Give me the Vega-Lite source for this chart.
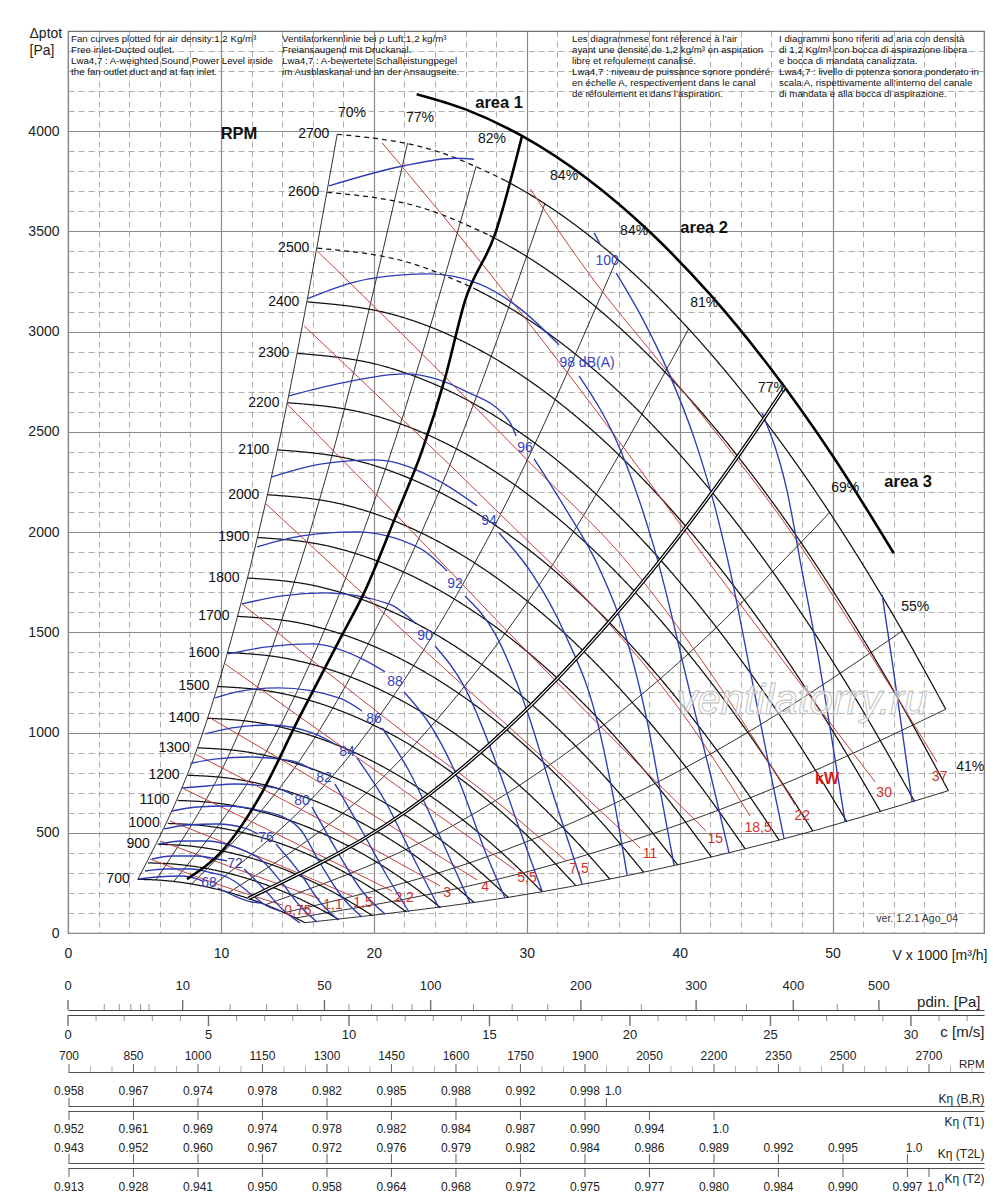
{
"$schema":"https://vega.github.io/schema/vega-lite/v6.json",
"background":"white",
"padding":{"left":27,"top":25,"right":5,"bottom":5},
"bounds":"flush",
"spacing":5,
"config":{"view":{"stroke":null},"font":"Liberation Sans","text":{"font":"Liberation Sans"},"axis":{"labelFont":"Liberation Sans","titleFont":"Liberation Sans"}},
"datasets":{
"fan":[
{"id":"700","d":"s","V":4.56,"P":267.8},{"id":"700","d":"s","V":6.29,"P":261.9},{"id":"700","d":"s","V":8.05,"P":244.9},{"id":"700","d":"s","V":9.81,"P":217.0},{"id":"700","d":"s","V":11.57,"P":178.0},{"id":"700","d":"s","V":13.34,"P":128.0},{"id":"700","d":"s","V":14.47,"P":90.0},{"id":"700","d":"s","V":15.50,"P":51.5},
{"id":"800","d":"s","V":5.22,"P":349.8},{"id":"800","d":"s","V":7.19,"P":342.1},{"id":"800","d":"s","V":9.20,"P":319.9},{"id":"800","d":"s","V":11.21,"P":283.4},{"id":"800","d":"s","V":13.23,"P":232.5},{"id":"800","d":"s","V":15.24,"P":167.1},{"id":"800","d":"s","V":16.53,"P":117.6},{"id":"800","d":"s","V":17.71,"P":67.2},
{"id":"900","d":"s","V":5.87,"P":442.8},{"id":"900","d":"s","V":8.09,"P":433.0},{"id":"900","d":"s","V":10.35,"P":404.9},{"id":"900","d":"s","V":12.62,"P":358.7},{"id":"900","d":"s","V":14.88,"P":294.2},{"id":"900","d":"s","V":17.15,"P":211.6},{"id":"900","d":"s","V":18.60,"P":148.8},{"id":"900","d":"s","V":19.93,"P":85.1},
{"id":"1000","d":"s","V":6.52,"P":546.6},{"id":"1000","d":"s","V":8.99,"P":534.5},{"id":"1000","d":"s","V":11.50,"P":499.8},{"id":"1000","d":"s","V":14.02,"P":442.8},{"id":"1000","d":"s","V":16.53,"P":363.2},{"id":"1000","d":"s","V":19.05,"P":261.2},{"id":"1000","d":"s","V":20.67,"P":183.7},{"id":"1000","d":"s","V":22.14,"P":105.0},
{"id":"1100","d":"s","V":7.17,"P":661.4},{"id":"1100","d":"s","V":9.89,"P":646.7},{"id":"1100","d":"s","V":12.65,"P":604.9},{"id":"1100","d":"s","V":15.42,"P":535.8},{"id":"1100","d":"s","V":18.19,"P":439.5},{"id":"1100","d":"s","V":20.96,"P":316.0},{"id":"1100","d":"s","V":22.74,"P":222.3},{"id":"1100","d":"s","V":24.36,"P":127.1},
{"id":"1200","d":"s","V":7.82,"P":787.1},{"id":"1200","d":"s","V":10.78,"P":769.7},{"id":"1200","d":"s","V":13.80,"P":719.8},{"id":"1200","d":"s","V":16.82,"P":637.6},{"id":"1200","d":"s","V":19.84,"P":523.0},{"id":"1200","d":"s","V":22.86,"P":376.1},{"id":"1200","d":"s","V":24.80,"P":264.5},{"id":"1200","d":"s","V":26.57,"P":151.2},
{"id":"1300","d":"s","V":8.48,"P":923.8},{"id":"1300","d":"s","V":11.68,"P":903.3},{"id":"1300","d":"s","V":14.95,"P":844.8},{"id":"1300","d":"s","V":18.22,"P":748.3},{"id":"1300","d":"s","V":21.50,"P":613.8},{"id":"1300","d":"s","V":24.77,"P":441.4},{"id":"1300","d":"s","V":26.87,"P":310.5},{"id":"1300","d":"s","V":28.79,"P":177.5},
{"id":"1400","d":"s","V":9.13,"P":1071.4},{"id":"1400","d":"s","V":12.58,"P":1047.6},{"id":"1400","d":"s","V":16.10,"P":979.8},{"id":"1400","d":"s","V":19.63,"P":867.9},{"id":"1400","d":"s","V":23.15,"P":711.9},{"id":"1400","d":"s","V":26.67,"P":511.9},{"id":"1400","d":"s","V":28.94,"P":360.1},{"id":"1400","d":"s","V":31.00,"P":205.9},
{"id":"1500","d":"s","V":9.78,"P":1229.9},{"id":"1500","d":"s","V":13.48,"P":1202.6},{"id":"1500","d":"s","V":17.25,"P":1124.7},{"id":"1500","d":"s","V":21.03,"P":996.3},{"id":"1500","d":"s","V":24.80,"P":817.2},{"id":"1500","d":"s","V":28.58,"P":587.6},{"id":"1500","d":"s","V":31.00,"P":413.3},{"id":"1500","d":"s","V":33.21,"P":236.3},
{"id":"1600","d":"s","V":10.43,"P":1399.3},{"id":"1600","d":"s","V":14.38,"P":1368.3},{"id":"1600","d":"s","V":18.40,"P":1279.7},{"id":"1600","d":"s","V":22.43,"P":1133.5},{"id":"1600","d":"s","V":26.46,"P":929.8},{"id":"1600","d":"s","V":30.48,"P":668.6},{"id":"1600","d":"s","V":33.07,"P":470.3},{"id":"1600","d":"s","V":35.43,"P":268.9},
{"id":"1700","d":"s","V":11.08,"P":1579.7},{"id":"1700","d":"s","V":15.28,"P":1544.7},{"id":"1700","d":"s","V":19.55,"P":1444.6},{"id":"1700","d":"s","V":23.83,"P":1279.6},{"id":"1700","d":"s","V":28.11,"P":1049.7},{"id":"1700","d":"s","V":32.39,"P":754.8},{"id":"1700","d":"s","V":35.14,"P":530.9},{"id":"1700","d":"s","V":37.64,"P":303.5},
{"id":"1800","d":"s","V":11.74,"P":1771.0},{"id":"1800","d":"s","V":16.18,"P":1731.7},{"id":"1800","d":"s","V":20.70,"P":1619.6},{"id":"1800","d":"s","V":25.23,"P":1434.6},{"id":"1800","d":"s","V":29.76,"P":1176.8},{"id":"1800","d":"s","V":34.29,"P":846.2},{"id":"1800","d":"s","V":37.20,"P":595.2},{"id":"1800","d":"s","V":39.86,"P":340.3},
{"id":"1900","d":"s","V":12.39,"P":1973.3},{"id":"1900","d":"s","V":17.07,"P":1929.5},{"id":"1900","d":"s","V":21.85,"P":1804.6},{"id":"1900","d":"s","V":26.64,"P":1598.4},{"id":"1900","d":"s","V":31.42,"P":1311.2},{"id":"1900","d":"s","V":36.20,"P":942.8},{"id":"1900","d":"s","V":39.27,"P":663.2},{"id":"1900","d":"s","V":42.07,"P":379.2},
{"id":"2000","d":"s","V":13.04,"P":2186.5},{"id":"2000","d":"s","V":17.97,"P":2138.0},{"id":"2000","d":"s","V":23.01,"P":1999.5},{"id":"2000","d":"s","V":28.04,"P":1771.1},{"id":"2000","d":"s","V":33.07,"P":1452.9},{"id":"2000","d":"s","V":38.10,"P":1044.7},{"id":"2000","d":"s","V":41.34,"P":734.8},{"id":"2000","d":"s","V":44.28,"P":420.1},
{"id":"2100","d":"s","V":13.69,"P":2410.5},{"id":"2100","d":"s","V":18.87,"P":2357.1},{"id":"2100","d":"s","V":24.16,"P":2204.4},{"id":"2100","d":"s","V":29.44,"P":1952.6},{"id":"2100","d":"s","V":34.72,"P":1601.8},{"id":"2100","d":"s","V":40.01,"P":1151.7},{"id":"2100","d":"s","V":43.40,"P":810.1},{"id":"2100","d":"s","V":46.50,"P":463.2},
{"id":"2200","d":"s","V":14.35,"P":2645.6},{"id":"2200","d":"s","V":19.77,"P":2586.9},{"id":"2200","d":"s","V":25.31,"P":2419.4},{"id":"2200","d":"s","V":30.84,"P":2143.1},{"id":"2200","d":"s","V":36.38,"P":1757.9},{"id":"2200","d":"s","V":41.91,"P":1264.0},{"id":"2200","d":"s","V":45.47,"P":889.1},{"id":"2200","d":"s","V":48.71,"P":508.4},
{"id":"2300","d":"s","V":15.00,"P":2891.6},{"id":"2300","d":"s","V":20.67,"P":2827.4},{"id":"2300","d":"s","V":26.46,"P":2644.3},{"id":"2300","d":"s","V":32.24,"P":2342.3},{"id":"2300","d":"s","V":38.03,"P":1921.4},{"id":"2300","d":"s","V":43.82,"P":1381.6},{"id":"2300","d":"s","V":47.54,"P":971.8},{"id":"2300","d":"s","V":50.93,"P":555.6},
{"id":"2400","d":"s","V":15.65,"P":3148.5},{"id":"2400","d":"s","V":21.57,"P":3078.7},{"id":"2400","d":"s","V":27.61,"P":2879.3},{"id":"2400","d":"s","V":33.64,"P":2550.4},{"id":"2400","d":"s","V":39.68,"P":2092.1},{"id":"2400","d":"s","V":45.72,"P":1504.3},{"id":"2400","d":"s","V":49.60,"P":1058.1},{"id":"2400","d":"s","V":53.14,"P":605.0},
{"id":"2500d","d":"d","V":16.30,"P":3416.3},{"id":"2500d","d":"d","V":22.47,"P":3340.6},{"id":"2500d","d":"d","V":26.51,"P":3217.6},
{"id":"2500","d":"s","V":26.51,"P":3217.6},{"id":"2500","d":"s","V":28.76,"P":3124.2},{"id":"2500","d":"s","V":35.05,"P":2767.4},{"id":"2500","d":"s","V":41.34,"P":2270.1},{"id":"2500","d":"s","V":47.63,"P":1632.3},{"id":"2500","d":"s","V":51.67,"P":1148.2},{"id":"2500","d":"s","V":55.36,"P":656.5},
{"id":"2600d","d":"d","V":16.95,"P":3695.1},{"id":"2600d","d":"d","V":23.36,"P":3613.2},{"id":"2600d","d":"d","V":27.57,"P":3480.2},
{"id":"2600","d":"s","V":27.57,"P":3480.2},{"id":"2600","d":"s","V":29.91,"P":3379.2},{"id":"2600","d":"s","V":36.45,"P":2993.2},{"id":"2600","d":"s","V":42.99,"P":2455.3},{"id":"2600","d":"s","V":49.53,"P":1765.5},{"id":"2600","d":"s","V":53.74,"P":1241.8},{"id":"2600","d":"s","V":57.57,"P":710.0},
{"id":"2700d","d":"d","V":17.61,"P":3984.8},{"id":"2700d","d":"d","V":24.26,"P":3896.4},{"id":"2700d","d":"d","V":28.63,"P":3753.0},
{"id":"2700","d":"s","V":28.63,"P":3753.0},{"id":"2700","d":"s","V":31.06,"P":3644.1},{"id":"2700","d":"s","V":37.85,"P":3227.8},{"id":"2700","d":"s","V":44.64,"P":2647.8},{"id":"2700","d":"s","V":51.44,"P":1903.9},{"id":"2700","d":"s","V":54.35,"P":1534.9},{"id":"2700","d":"s","V":57.40,"P":1116.0}
],
"ln":[
{"k":"e","id":"e70","V":4.564,"P":267.8},{"k":"e","id":"e70","V":9.07,"P":1057.6},{"k":"e","id":"e70","V":13.605,"P":2379.7},{"k":"e","id":"e70","V":17.605,"P":3984.8},
{"k":"e","id":"e77","V":5.757,"P":264.9},{"k":"e","id":"e77","V":11.44,"P":1045.9},{"k":"e","id":"e77","V":17.16,"P":2353.3},{"k":"e","id":"e77","V":22.206,"P":3940.6},
{"k":"e","id":"e82","V":6.92,"P":257.1},{"k":"e","id":"e82","V":13.75,"P":1015.3},{"k":"e","id":"e82","V":20.625,"P":2284.3},{"k":"e","id":"e82","V":26.69,"P":3825.1},
{"k":"e","id":"e84a","V":8.085,"P":244.5},{"k":"e","id":"e84a","V":16.065,"P":965.6},{"k":"e","id":"e84a","V":24.10,"P":2172.5},{"k":"e","id":"e84a","V":31.18,"P":3637.9},
{"k":"e","id":"e84b","V":9.307,"P":226.1},{"k":"e","id":"e84b","V":18.495,"P":892.9},{"k":"e","id":"e84b","V":27.74,"P":2009.0},{"k":"e","id":"e84b","V":35.90,"P":3364.1},
{"k":"e","id":"e81","V":10.523,"P":202.6},{"k":"e","id":"e81","V":20.91,"P":800.0},{"k":"e","id":"e81","V":31.365,"P":1799.9},{"k":"e","id":"e81","V":40.587,"P":3013.9},
{"k":"e","id":"e69","V":12.913,"P":141.0},{"k":"e","id":"e69","V":25.66,"P":556.7},{"k":"e","id":"e69","V":38.49,"P":1252.5},{"k":"e","id":"e69","V":49.807,"P":2097.3},
{"k":"e","id":"e55","V":14.146,"P":101.3},{"k":"e","id":"e55","V":28.11,"P":399.9},{"k":"e","id":"e55","V":42.165,"P":899.7},{"k":"e","id":"e55","V":54.563,"P":1506.6},
{"k":"e","id":"e41","V":14.881,"P":75.0},{"k":"e","id":"e41","V":29.57,"P":296.3},{"k":"e","id":"e41","V":44.355,"P":666.6},{"k":"e","id":"e41","V":57.397,"P":1116.2},
{"k":"e","id":"ebot","V":15.5,"P":51.5},{"k":"e","id":"ebot","V":30.8,"P":203.2},{"k":"e","id":"ebot","V":46.2,"P":457.3},{"k":"e","id":"ebot","V":57.57,"P":710.0},
{"k":"t","id":"tA","V":22.8,"P":4185.0},{"k":"t","id":"tA","V":26,"P":4109.1},{"k":"t","id":"tA","V":29.69,"P":3976.4},{"k":"t","id":"tA","V":34,"P":3760.3},{"k":"t","id":"tA","V":38,"P":3500.7},{"k":"t","id":"tA","V":42,"P":3184.3},{"k":"t","id":"tA","V":46,"P":2811.1},{"k":"t","id":"tA","V":50,"P":2381.1},{"k":"t","id":"tA","V":54,"P":1894.3},
{"k":"t","id":"t1","V":7.78,"P":269},{"k":"t","id":"t1","V":10.07,"P":409},{"k":"t","id":"t1","V":12.49,"P":674},{"k":"t","id":"t1","V":15.11,"P":1073},{"k":"t","id":"t1","V":17.72,"P":1457},{"k":"t","id":"t1","V":19.42,"P":1707},{"k":"t","id":"t1","V":21.39,"P":2071},{"k":"t","id":"t1","V":23.15,"P":2405},{"k":"t","id":"t1","V":24.66,"P":2769},{"k":"t","id":"t1","V":25.96,"P":3154},{"k":"t","id":"t1","V":27.93,"P":3488},{"k":"t","id":"t1","V":29.69,"P":3976},
{"k":"d","id":"t77","V":11.793,"P":172.4},{"k":"d","id":"t77","V":23.435,"P":680.6},{"k":"d","id":"t77","V":35.15,"P":1531.4},{"k":"d","id":"t77","V":45.49,"P":2564.3},{"k":"d","id":"t77","V":46.87,"P":2722.4},
{"k":"r","id":"r075","V":5.36,"P":369.3},{"k":"r","id":"r075","V":9.74,"P":244.5},{"k":"r","id":"r075","V":14.0,"P":139.7},
{"k":"r","id":"r11","V":6.02,"P":459.1},{"k":"r","id":"r11","V":11.38,"P":309.4},{"k":"r","id":"r11","V":16.48,"P":169.7},
{"k":"r","id":"r15","V":6.67,"P":558.9},{"k":"r","id":"r15","V":12.69,"P":374.3},{"k":"r","id":"r15","V":18.57,"P":184.6},
{"k":"r","id":"r22","V":7.59,"P":718.6},{"k":"r","id":"r22","V":14.32,"P":469.1},{"k":"r","id":"r22","V":21.19,"P":209.6},
{"k":"r","id":"r3","V":8.31,"P":893.2},{"k":"r","id":"r3","V":16.29,"P":573.9},{"k":"r","id":"r3","V":24.33,"P":234.5},
{"k":"r","id":"r4","V":9.29,"P":1072.9},{"k":"r","id":"r4","V":17.92,"P":683.6},{"k":"r","id":"r4","V":26.75,"P":264.5},
{"k":"r","id":"r55","V":10.27,"P":1342.3},{"k":"r","id":"r55","V":19.88,"P":823.4},{"k":"r","id":"r55","V":29.24,"P":314.4},
{"k":"r","id":"r75","V":11.38,"P":1641.7},{"k":"r","id":"r75","V":21.84,"P":1008.0},{"k":"r","id":"r75","V":28.38,"P":633.7},{"k":"r","id":"r75","V":32.57,"P":359.3},
{"k":"r","id":"r110","V":12.88,"P":2145.7},{"k":"r","id":"r110","V":23.35,"P":1407.2},{"k":"r","id":"r110","V":32.50,"P":773.5},{"k":"r","id":"r110","V":37.41,"P":424.2},
{"k":"r","id":"r150","V":14.32,"P":2639.7},{"k":"r","id":"r150","V":21.84,"P":2055.9},{"k":"r","id":"r150","V":28.58,"P":1517.0},{"k":"r","id":"r150","V":36.89,"P":873.3},{"k":"r","id":"r150","V":41.73,"P":509.0},
{"k":"r","id":"r185","V":15.44,"P":3028.9},{"k":"r","id":"r185","V":21.84,"P":2564.9},{"k":"r","id":"r185","V":28.38,"P":2080.8},{"k":"r","id":"r185","V":34.92,"P":1581.8},{"k":"r","id":"r185","V":40.16,"P":1097.8},{"k":"r","id":"r185","V":44.60,"P":583.8},
{"k":"r","id":"r220","V":16.29,"P":3403.2},{"k":"r","id":"r220","V":23.81,"P":2839.3},{"k":"r","id":"r220","V":29.89,"P":2370.3},{"k":"r","id":"r220","V":36.89,"P":1821.4},{"k":"r","id":"r220","V":41.47,"P":1357.3},{"k":"r","id":"r220","V":47.55,"P":638.7},
{"k":"r","id":"r300","V":20.54,"P":3942.1},{"k":"r","id":"r300","V":27.08,"P":3338.3},{"k":"r","id":"r300","V":32.31,"P":2829.3},{"k":"r","id":"r300","V":42.32,"P":1806.4},{"k":"r","id":"r300","V":52.78,"P":753.5},
{"k":"r","id":"r370","V":30.22,"P":3712.6},{"k":"r","id":"r370","V":34.27,"P":3268.5},{"k":"r","id":"r370","V":39.31,"P":2789.4},{"k":"r","id":"r370","V":47.81,"P":1941.1},{"k":"r","id":"r370","V":51.08,"P":1556.9},{"k":"r","id":"r370","V":56.83,"P":853.3},
{"k":"b","id":"b100u","V":17.07,"P":3727.5},{"k":"b","id":"b100u","V":21.84,"P":3825.3},{"k":"b","id":"b100u","V":25.31,"P":3865.3},{"k":"b","id":"b100u","V":26.55,"P":3860.3},
{"k":"b","id":"b100p","V":34.40,"P":3493.0},{"k":"b","id":"b100p","V":34.79,"P":3438.1},
{"k":"b","id":"b100l","V":35.84,"P":3293.4},{"k":"b","id":"b100l","V":37.54,"P":3068.9},{"k":"b","id":"b100l","V":39.31,"P":2789.4},{"k":"b","id":"b100l","V":41.01,"P":2455.1},{"k":"b","id":"b100l","V":42.32,"P":2120.8},{"k":"b","id":"b100l","V":43.30,"P":1806.4},{"k":"b","id":"b100l","V":44.74,"P":1257.5},{"k":"b","id":"b100l","V":45.91,"P":808.4},{"k":"b","id":"b100l","V":46.83,"P":469.1},
{"k":"b","id":"b98u","V":15.63,"P":3163.7},{"k":"b","id":"b98u","V":19.69,"P":3263.5},{"k":"b","id":"b98u","V":23.61,"P":3288.4},{"k":"b","id":"b98u","V":26.88,"P":3238.5},{"k":"b","id":"b98u","V":29.50,"P":3118.8},{"k":"b","id":"b98u","V":32.11,"P":2934.1},
{"k":"b","id":"b98l","V":33.42,"P":2779.4},{"k":"b","id":"b98l","V":36.23,"P":2390.2},{"k":"b","id":"b98l","V":38.39,"P":1906.2},{"k":"b","id":"b98l","V":40.81,"P":1157.7},{"k":"b","id":"b98l","V":42.12,"P":758.5},{"k":"b","id":"b98l","V":43.23,"P":399.2},
{"k":"b","id":"b96u","V":14.45,"P":2679.6},{"k":"b","id":"b96u","V":17.92,"P":2744.5},{"k":"b","id":"b96u","V":22.04,"P":2789.4},{"k":"b","id":"b96u","V":25.96,"P":2704.6},{"k":"b","id":"b96u","V":28.84,"P":2554.9},{"k":"b","id":"b96u","V":29.30,"P":2480.0},
{"k":"b","id":"b96l","V":30.48,"P":2365.3},{"k":"b","id":"b96l","V":32.50,"P":2120.8},{"k":"b","id":"b96l","V":34.73,"P":1821.4},{"k":"b","id":"b96l","V":36.43,"P":1492.0},{"k":"b","id":"b96l","V":37.87,"P":1057.9},{"k":"b","id":"b96l","V":38.85,"P":658.7},{"k":"b","id":"b96l","V":39.63,"P":339.3},
{"k":"b","id":"b94u","V":13.34,"P":2275.4},{"k":"b","id":"b94u","V":16.61,"P":2340.3},{"k":"b","id":"b94u","V":20.08,"P":2360.3},{"k":"b","id":"b94u","V":24.26,"P":2255.5},{"k":"b","id":"b94u","V":26.75,"P":2130.7},
{"k":"b","id":"b94l","V":28.19,"P":1996.0},{"k":"b","id":"b94l","V":30.35,"P":1791.4},{"k":"b","id":"b94l","V":32.50,"P":1492.0},{"k":"b","id":"b94l","V":34.60,"P":1057.9},{"k":"b","id":"b94l","V":35.71,"P":658.7},{"k":"b","id":"b94l","V":36.56,"P":289.4},
{"k":"b","id":"b92u","V":12.36,"P":1926.1},{"k":"b","id":"b92u","V":15.30,"P":1981.0},{"k":"b","id":"b92u","V":18.77,"P":2001.0},{"k":"b","id":"b92u","V":22.96,"P":1921.2},{"k":"b","id":"b92u","V":24.79,"P":1806.4},
{"k":"b","id":"b92l","V":25.96,"P":1681.6},{"k":"b","id":"b92l","V":27.93,"P":1492.0},{"k":"b","id":"b92l","V":30.02,"P":1107.8},{"k":"b","id":"b92l","V":31.65,"P":708.6},{"k":"b","id":"b92l","V":33.62,"P":244.5},
{"k":"b","id":"b90u","V":11.38,"P":1641.7},{"k":"b","id":"b90u","V":14.00,"P":1681.6},{"k":"b","id":"b90u","V":16.81,"P":1696.6},{"k":"b","id":"b90u","V":20.99,"P":1641.7},{"k":"b","id":"b90u","V":22.69,"P":1546.9},
{"k":"b","id":"b90l","V":24.00,"P":1432.1},{"k":"b","id":"b90l","V":25.96,"P":1222.6},{"k":"b","id":"b90l","V":28.19,"P":808.4},{"k":"b","id":"b90l","V":29.50,"P":524.0},{"k":"b","id":"b90l","V":31.00,"P":209.6},
{"k":"b","id":"b88u","V":10.46,"P":1392.2},{"k":"b","id":"b88u","V":13.02,"P":1427.1},{"k":"b","id":"b88u","V":15.96,"P":1442.1},{"k":"b","id":"b88u","V":19.23,"P":1367.3},{"k":"b","id":"b88u","V":20.73,"P":1302.4},
{"k":"b","id":"b88l","V":21.98,"P":1202.6},{"k":"b","id":"b88l","V":23.81,"P":1023.0},{"k":"b","id":"b88l","V":25.57,"P":758.5},{"k":"b","id":"b88l","V":27.27,"P":409.2},{"k":"b","id":"b88l","V":28.58,"P":174.7},
{"k":"b","id":"b86u","V":9.61,"P":1172.7},{"k":"b","id":"b86u","V":11.38,"P":1207.6},{"k":"b","id":"b86u","V":13.80,"P":1222.6},{"k":"b","id":"b86u","V":17.72,"P":1172.7},{"k":"b","id":"b86u","V":19.23,"P":1107.8},
{"k":"b","id":"b86l","V":20.54,"P":1023.0},{"k":"b","id":"b86l","V":22.30,"P":808.4},{"k":"b","id":"b86l","V":24.46,"P":459.1},{"k":"b","id":"b86l","V":26.29,"P":149.7},
{"k":"b","id":"b84u","V":8.96,"P":993.0},{"k":"b","id":"b84u","V":10.73,"P":1023.0},{"k":"b","id":"b84u","V":13.15,"P":1037.9},{"k":"b","id":"b84u","V":16.15,"P":993.0},{"k":"b","id":"b84u","V":17.53,"P":938.1},
{"k":"b","id":"b84l","V":18.90,"P":873.3},{"k":"b","id":"b84l","V":20.73,"P":658.7},{"k":"b","id":"b84l","V":22.69,"P":359.3},{"k":"b","id":"b84l","V":24.26,"P":124.8},
{"k":"b","id":"b82u","V":8.11,"P":848.3},{"k":"b","id":"b82u","V":9.74,"P":868.3},{"k":"b","id":"b82u","V":11.84,"P":878.2},{"k":"b","id":"b82u","V":14.65,"P":858.3},{"k":"b","id":"b82u","V":16.02,"P":813.4},
{"k":"b","id":"b82l","V":17.46,"P":743.5},{"k":"b","id":"b82l","V":19.23,"P":509.0},{"k":"b","id":"b82l","V":20.86,"P":284.4},{"k":"b","id":"b82l","V":22.30,"P":104.8},
{"k":"b","id":"b80u","V":7.46,"P":723.6},{"k":"b","id":"b80u","V":9.09,"P":733.5},{"k":"b","id":"b80u","V":10.92,"P":743.5},{"k":"b","id":"b80u","V":13.54,"P":723.6},{"k":"b","id":"b80u","V":14.72,"P":688.6},
{"k":"b","id":"b80l","V":15.96,"P":628.7},{"k":"b","id":"b80l","V":17.59,"P":409.2},{"k":"b","id":"b80l","V":19.23,"P":209.6},{"k":"b","id":"b80l","V":20.73,"P":94.8},
{"k":"b","id":"b78","V":6.80,"P":608.8},{"k":"b","id":"b78","V":8.44,"P":628.7},{"k":"b","id":"b78","V":10.40,"P":633.7},{"k":"b","id":"b78","V":12.69,"P":608.8},{"k":"b","id":"b78","V":14.32,"P":568.9},{"k":"b","id":"b78","V":15.17,"P":519.0},{"k":"b","id":"b78","V":16.48,"P":349.3},{"k":"b","id":"b78","V":17.92,"P":179.6},{"k":"b","id":"b78","V":19.23,"P":79.8},
{"k":"b","id":"b76u","V":6.28,"P":519.0},{"k":"b","id":"b76u","V":7.78,"P":538.9},{"k":"b","id":"b76u","V":9.74,"P":543.9},{"k":"b","id":"b76u","V":11.71,"P":519.0},{"k":"b","id":"b76u","V":12.43,"P":494.0},
{"k":"b","id":"b76l","V":13.60,"P":444.1},{"k":"b","id":"b76l","V":15.17,"P":299.4},{"k":"b","id":"b76l","V":16.48,"P":154.7},{"k":"b","id":"b76l","V":17.66,"P":64.9},
{"k":"b","id":"b74","V":5.95,"P":444.1},{"k":"b","id":"b74","V":7.46,"P":459.1},{"k":"b","id":"b74","V":9.09,"P":459.1},{"k":"b","id":"b74","V":10.73,"P":434.1},{"k":"b","id":"b74","V":11.71,"P":404.2},{"k":"b","id":"b74","V":12.56,"P":369.3},{"k":"b","id":"b74","V":14.00,"P":249.5},{"k":"b","id":"b74","V":15.17,"P":134.7},{"k":"b","id":"b74","V":16.29,"P":54.9},
{"k":"b","id":"b72u","V":5.49,"P":369.3},{"k":"b","id":"b72u","V":6.80,"P":384.2},{"k":"b","id":"b72u","V":8.44,"P":384.2},{"k":"b","id":"b72u","V":9.74,"P":369.3},{"k":"b","id":"b72u","V":10.40,"P":359.3},
{"k":"b","id":"b72l","V":11.51,"P":319.4},{"k":"b","id":"b72l","V":12.82,"P":219.6},{"k":"b","id":"b72l","V":14.00,"P":119.8},{"k":"b","id":"b72l","V":15.17,"P":49.9},
{"k":"b","id":"b70","V":5.04,"P":309.4},{"k":"b","id":"b70","V":6.47,"P":319.4},{"k":"b","id":"b70","V":8.11,"P":319.4},{"k":"b","id":"b70","V":9.42,"P":299.4},{"k":"b","id":"b70","V":10.20,"P":284.4},{"k":"b","id":"b70","V":10.86,"P":259.5},{"k":"b","id":"b70","V":12.03,"P":189.6},{"k":"b","id":"b70","V":13.02,"P":134.7},{"k":"b","id":"b70","V":13.87,"P":109.8},
{"k":"b","id":"b68u","V":4.64,"P":269.5},{"k":"b","id":"b68u","V":5.82,"P":279.4},{"k":"b","id":"b68u","V":7.46,"P":284.4},{"k":"b","id":"b68u","V":8.44,"P":269.5},{"k":"b","id":"b68u","V":8.76,"P":259.5},
{"k":"b","id":"b68l","V":9.81,"P":224.6},{"k":"b","id":"b68l","V":11.05,"P":179.6},{"k":"b","id":"b68l","V":12.03,"P":154.7},{"k":"b","id":"b68l","V":12.56,"P":149.7},
{"k":"b","id":"b102","V":45.39,"P":2594.8},{"k":"b","id":"b102","V":47.02,"P":2205.6},{"k":"b","id":"b102","V":48.00,"P":1806.4},{"k":"b","id":"b102","V":48.99,"P":1407.2},{"k":"b","id":"b102","V":49.97,"P":958.1},{"k":"b","id":"b102","V":50.82,"P":553.9},
{"k":"b","id":"b104","V":53.24,"P":1686.6},{"k":"b","id":"b104","V":53.89,"P":1357.3},{"k":"b","id":"b104","V":54.55,"P":1008.0},{"k":"b","id":"b104","V":55.20,"P":653.7}
],
"lab":[
{"k":"rpm","t":"700","V":4.56,"P":267.8},{"k":"rpm","t":"900","V":5.87,"P":442.8},{"k":"rpm","t":"1000","V":6.52,"P":546.6},{"k":"rpm","t":"1100","V":7.17,"P":661.4},{"k":"rpm","t":"1200","V":7.82,"P":787.1},{"k":"rpm","t":"1300","V":8.48,"P":923.8},{"k":"rpm","t":"1400","V":9.13,"P":1071.4},{"k":"rpm","t":"1500","V":9.78,"P":1229.9},{"k":"rpm","t":"1600","V":10.43,"P":1399.3},{"k":"rpm","t":"1700","V":11.08,"P":1579.7},{"k":"rpm","t":"1800","V":11.74,"P":1771.0},{"k":"rpm","t":"1900","V":12.39,"P":1973.3},{"k":"rpm","t":"2000","V":13.04,"P":2186.5},{"k":"rpm","t":"2100","V":13.69,"P":2410.5},{"k":"rpm","t":"2200","V":14.35,"P":2645.6},{"k":"rpm","t":"2300","V":15.00,"P":2891.6},{"k":"rpm","t":"2400","V":15.65,"P":3148.5},{"k":"rpm","t":"2500","V":16.30,"P":3416.3},{"k":"rpm","t":"2600","V":16.95,"P":3695.1},{"k":"rpm","t":"2700","V":17.61,"P":3984.8},
{"k":"eff","t":"70%","V":18.57,"P":4091.8},{"k":"eff","t":"77%","V":23.02,"P":4066.9},{"k":"eff","t":"82%","V":27.73,"P":3962.1},{"k":"eff","t":"84%","V":32.44,"P":3777.4},{"k":"eff","t":"84%","V":37.02,"P":3503.0},{"k":"eff","t":"81%","V":41.60,"P":3143.7},{"k":"eff","t":"77%","V":46.04,"P":2719.6},{"k":"eff","t":"69%","V":50.82,"P":2220.6},{"k":"eff","t":"55%","V":55.40,"P":1626.7},{"k":"eff","t":"41%","V":59.0,"P":830},
{"k":"blue","t":"100","V":35.25,"P":3353.3},{"k":"blue","t":"98 dB(A)","V":33.94,"P":2844.3},{"k":"blue","t":"96","V":29.89,"P":2420.2},{"k":"blue","t":"94","V":27.53,"P":2055.9},{"k":"blue","t":"92","V":25.31,"P":1741.5},{"k":"blue","t":"90","V":23.35,"P":1482.0},{"k":"blue","t":"88","V":21.39,"P":1252.5},{"k":"blue","t":"86","V":20.01,"P":1067.9},{"k":"blue","t":"84","V":18.25,"P":903.2},{"k":"blue","t":"82","V":16.74,"P":773.5},{"k":"blue","t":"80","V":15.30,"P":658.7},{"k":"blue","t":"76","V":12.95,"P":474.1},{"k":"blue","t":"72","V":10.92,"P":344.3},{"k":"blue","t":"68","V":9.22,"P":249.5},
{"k":"red","t":"0,75","V":15.04,"P":109.8},{"k":"red","t":"1,1","V":17.33,"P":139.7},{"k":"red","t":"1,5","V":19.29,"P":149.7},{"k":"red","t":"2,2","V":21.98,"P":174.7},{"k":"red","t":"3","V":24.79,"P":199.6},{"k":"red","t":"4","V":27.27,"P":229.5},{"k":"red","t":"5,5","V":30.02,"P":274.4},{"k":"red","t":"7,5","V":33.42,"P":319.4},{"k":"red","t":"11","V":38.06,"P":394.2},{"k":"red","t":"15","V":42.32,"P":469.1},{"k":"red","t":"18,5","V":45.13,"P":524.0},{"k":"red","t":"22","V":48.01,"P":583.8},{"k":"red","t":"30","V":53.37,"P":698.6},{"k":"red","t":"37","V":57.0,"P":780},
{"k":"bold","t":"RPM","V":11.18,"P":3987},{"k":"bold","t":"area 1","V":28.19,"P":4141.7},{"k":"bold","t":"area 2","V":41.6,"P":3518},{"k":"bold","t":"area 3","V":54.94,"P":2250.5},
{"k":"kw","t":"kW","V":49.64,"P":768.5},
{"k":"ver","t":"ver. 1.2.1 Ago_04","V":55.53,"P":69.9}
],
"notes":[
{"V":0.2,"P":4486,"t":["Fan curves plotted for air density:1,2 Kg/m³","Free inlet-Ducted outlet.","Lwa4,7 : A-weighted Sound Power Level inside","the fan outlet duct and at fan inlet."]},
{"V":14.0,"P":4486,"t":["Ventilatorkennlinie bei ρ Luft:1,2 kg/m³","Freiansaugend mit Druckanal.","Lwa4,7 : A-bewertete Schalleistungpegel","im Ausblaskanal und an der Ansaugseite."]},
{"V":32.96,"P":4486,"t":["Les diagrammese font réference à l’air","ayant une densité de 1,2 kg/m³ en aspiration","libre et refoulement canalisé.","Lwa4,7 : niveau de puissance sonore pondéré","en échelle A, respectivement dans le canal","de réfoulement et dans l’aspiration."]},
{"V":46.5,"P":4486,"t":["I diagrammi sono riferiti ad aria con densità","di 1,2 Kg/m³ con bocca di aspirazione libera","e bocca di mandata canalizzata.","Lwa4,7 : livello di potenza sonora ponderato in","scala A, rispettivamente all’interno del canale","di mandata e alla bocca di aspirazione."]}
],
"wm":[{"V":48.0,"P":1157.7,"t":"ventilatorry.ru"}],
"pdin":[{"v":0,"m":1},{"v":1,"m":0},{"v":2,"m":0},{"v":3,"m":0},{"v":4,"m":0},{"v":5,"m":0},{"v":10,"m":1},{"v":20,"m":0},{"v":30,"m":0},{"v":40,"m":0},{"v":50,"m":1},{"v":60,"m":0},{"v":70,"m":0},{"v":80,"m":0},{"v":90,"m":0},{"v":100,"m":1},{"v":125,"m":0},{"v":150,"m":0},{"v":175,"m":0},{"v":200,"m":1},{"v":250,"m":0},{"v":300,"m":1},{"v":350,"m":0},{"v":400,"m":1},{"v":450,"m":0},{"v":500,"m":1},{"v":550,"m":0}],
"cv":[{"v":0,"m":1},{"v":1,"m":0},{"v":2,"m":0},{"v":3,"m":0},{"v":4,"m":0},{"v":5,"m":1},{"v":6,"m":0},{"v":7,"m":0},{"v":8,"m":0},{"v":9,"m":0},{"v":10,"m":1},{"v":11,"m":0},{"v":12,"m":0},{"v":13,"m":0},{"v":14,"m":0},{"v":15,"m":1},{"v":16,"m":0},{"v":17,"m":0},{"v":18,"m":0},{"v":19,"m":0},{"v":20,"m":1},{"v":21,"m":0},{"v":22,"m":0},{"v":23,"m":0},{"v":24,"m":0},{"v":25,"m":1},{"v":26,"m":0},{"v":27,"m":0},{"v":28,"m":0},{"v":29,"m":0},{"v":30,"m":1},{"v":31,"m":0},{"v":32,"m":0}],
"rpm":[{"v":700,"m":1},{"v":750,"m":0},{"v":800,"m":0},{"v":850,"m":1},{"v":900,"m":0},{"v":950,"m":0},{"v":1000,"m":1},{"v":1050,"m":0},{"v":1100,"m":0},{"v":1150,"m":1},{"v":1200,"m":0},{"v":1250,"m":0},{"v":1300,"m":1},{"v":1350,"m":0},{"v":1400,"m":0},{"v":1450,"m":1},{"v":1500,"m":0},{"v":1550,"m":0},{"v":1600,"m":1},{"v":1650,"m":0},{"v":1700,"m":0},{"v":1750,"m":1},{"v":1800,"m":0},{"v":1850,"m":0},{"v":1900,"m":1},{"v":1950,"m":0},{"v":2000,"m":0},{"v":2050,"m":1},{"v":2100,"m":0},{"v":2150,"m":0},{"v":2200,"m":1},{"v":2250,"m":0},{"v":2300,"m":0},{"v":2350,"m":1},{"v":2400,"m":0},{"v":2450,"m":0},{"v":2500,"m":1},{"v":2550,"m":0},{"v":2600,"m":0},{"v":2650,"m":0},{"v":2700,"m":1},{"v":2750,"m":0},{"v":2800,"m":0}],
"keta":[
{"r":"BR","v":700,"t":"0.958"},{"r":"BR","v":850,"t":"0.967"},{"r":"BR","v":1000,"t":"0.974"},{"r":"BR","v":1150,"t":"0.978"},{"r":"BR","v":1300,"t":"0.982"},{"r":"BR","v":1450,"t":"0.985"},{"r":"BR","v":1600,"t":"0.988"},{"r":"BR","v":1750,"t":"0.992"},{"r":"BR","v":1900,"t":"0.998"},{"r":"BR","v":1950,"t":"1.0"},
{"r":"T1","v":700,"t":"0.952"},{"r":"T1","v":850,"t":"0.961"},{"r":"T1","v":1000,"t":"0.969"},{"r":"T1","v":1150,"t":"0.974"},{"r":"T1","v":1300,"t":"0.978"},{"r":"T1","v":1450,"t":"0.982"},{"r":"T1","v":1600,"t":"0.984"},{"r":"T1","v":1750,"t":"0.987"},{"r":"T1","v":1900,"t":"0.990"},{"r":"T1","v":2050,"t":"0.994"},{"r":"T1","v":2200,"t":"1.0"},
{"r":"T2L","v":700,"t":"0.943"},{"r":"T2L","v":850,"t":"0.952"},{"r":"T2L","v":1000,"t":"0.960"},{"r":"T2L","v":1150,"t":"0.967"},{"r":"T2L","v":1300,"t":"0.972"},{"r":"T2L","v":1450,"t":"0.976"},{"r":"T2L","v":1600,"t":"0.979"},{"r":"T2L","v":1750,"t":"0.982"},{"r":"T2L","v":1900,"t":"0.984"},{"r":"T2L","v":2050,"t":"0.986"},{"r":"T2L","v":2200,"t":"0.989"},{"r":"T2L","v":2350,"t":"0.992"},{"r":"T2L","v":2500,"t":"0.995"},{"r":"T2L","v":2650,"t":"1.0"},
{"r":"T2","v":700,"t":"0.913"},{"r":"T2","v":850,"t":"0.928"},{"r":"T2","v":1000,"t":"0.941"},{"r":"T2","v":1150,"t":"0.950"},{"r":"T2","v":1300,"t":"0.958"},{"r":"T2","v":1450,"t":"0.964"},{"r":"T2","v":1600,"t":"0.968"},{"r":"T2","v":1750,"t":"0.972"},{"r":"T2","v":1900,"t":"0.975"},{"r":"T2","v":2050,"t":"0.977"},{"r":"T2","v":2200,"t":"0.980"},{"r":"T2","v":2350,"t":"0.984"},{"r":"T2","v":2500,"t":"0.990"},{"r":"T2","v":2650,"t":"0.997"},{"r":"T2","v":2700,"t":"1.0"}
]
},
"vconcat":[
{
"width":916,"height":902,
"view":{"stroke":"#707070","strokeWidth":1.2},
"encoding":{
 "x":{"field":"V","type":"quantitative","scale":{"domain":[0,59.9],"nice":false,"zero":false},
  "axis":{"values":[0,2,4,6,8,10,12,14,16,18,20,22,24,26,28,30,32,34,36,38,40,42,44,46,48,50,52,54,56,58],"format":"d","labelExpr":"datum.value % 10 === 0 ? datum.label : ''","ticks":false,"tickSize":0,"domain":false,"grid":true,
   "gridColor":{"condition":{"test":"datum.value % 10 === 0","value":"#8a8a8a"},"value":"#a6a6a6"},
   "gridDash":{"condition":{"test":"datum.value % 10 === 0","value":[1,0]},"value":[6,4]},
   "gridWidth":{"condition":{"test":"datum.value % 10 === 0","value":1.2},"value":0.9},
   "labelFontSize":14,"labelColor":"#222","labelPadding":13,"labelOverlap":false,"labelFlush":false,
   "title":"V x 1000 [m³/h]","titleFontSize":14,"titleFontWeight":"normal","titleColor":"#222","titleAlign":"right","titleAnchor":"end","titleX":919,"titleY":26,"titleBaseline":"alphabetic"}},
 "y":{"field":"P","type":"quantitative","scale":{"domain":[0,4500],"nice":false,"zero":false},
  "axis":{"values":[0,100,200,300,400,500,600,700,800,900,1000,1100,1200,1300,1400,1500,1600,1700,1800,1900,2000,2100,2200,2300,2400,2500,2600,2700,2800,2900,3000,3100,3200,3300,3400,3500,3600,3700,3800,3900,4000,4100,4200,4300,4400],"format":"d","labelExpr":"datum.value % 500 === 0 ? datum.label : ''","ticks":false,"tickSize":0,"domain":false,"grid":true,
   "gridColor":{"condition":{"test":"datum.value % 500 === 0","value":"#8a8a8a"},"value":"#a6a6a6"},
   "gridDash":{"condition":{"test":"datum.value % 500 === 0","value":[1,0]},"value":[6,4]},
   "gridWidth":{"condition":{"test":"datum.value % 500 === 0","value":1.2},"value":0.9},
   "labelFontSize":14,"labelColor":"#222","labelPadding":9,"labelOverlap":false,"labelFlush":false,
   "title":["Δptot","[Pa]"],"titleAngle":0,"titleAlign":"left","titleBaseline":"alphabetic","titleX":-39,"titleY":6,"titleFontSize":14,"titleFontWeight":"normal","titleLineHeight":17,"titleColor":"#222"}}
},
"layer":[
 {"data":{"name":"ln"},"transform":[{"filter":"datum.k === 'e'"}],"mark":{"type":"line","interpolate":"monotone","color":"#1a1a1a","strokeWidth":0.9},"encoding":{"detail":{"field":"id"}}},
 {"data":{"name":"fan"},"mark":{"type":"line","interpolate":"monotone","color":"#111111","strokeWidth":1.25},
  "encoding":{"detail":{"field":"id"},"strokeDash":{"field":"d","type":"nominal","scale":{"domain":["s","d"],"range":[[1,0],[5,4]]},"legend":null}}},
 {"data":{"name":"ln"},"transform":[{"filter":"datum.k === 'r'"}],"mark":{"type":"line","interpolate":"monotone","color":"#c8403c","strokeWidth":1},"encoding":{"detail":{"field":"id"}}},
 {"data":{"name":"ln"},"transform":[{"filter":"datum.k === 'b'"}],"mark":{"type":"line","interpolate":"monotone","color":"#2c3cb4","strokeWidth":1.35},"encoding":{"detail":{"field":"id"}}},
 {"data":{"name":"ln"},"transform":[{"filter":"datum.k === 't'"}],"mark":{"type":"line","interpolate":"monotone","color":"#000000","strokeWidth":2.6},"encoding":{"detail":{"field":"id"}}},
 {"data":{"name":"ln"},"transform":[{"filter":"datum.k === 'd'"}],"mark":{"type":"line","interpolate":"monotone","color":"#000000","strokeWidth":3.6},"encoding":{"detail":{"field":"id"}}},
 {"data":{"name":"ln"},"transform":[{"filter":"datum.k === 'd'"}],"mark":{"type":"line","interpolate":"monotone","color":"#ffffff","strokeWidth":1.1},"encoding":{"detail":{"field":"id"}}},
 {"data":{"name":"wm"},"mark":{"type":"text","fontSize":42,"fontStyle":"italic","color":"#ffffff","fillOpacity":0.55,"stroke":"#bdbdbd","strokeWidth":0.9},"encoding":{"text":{"field":"t"}}},
 {"data":{"name":"notes"},"mark":{"type":"text","align":"left","baseline":"top","fontSize":9.7,"lineHeight":11,"color":"#111"},"encoding":{"text":{"field":"t"}}},
 {"data":{"name":"lab"},"transform":[{"filter":"datum.k === 'rpm'"}],"mark":{"type":"text","align":"right","baseline":"middle","dx":-8,"fontSize":14,"color":"#111"},"encoding":{"text":{"field":"t"}}},
 {"data":{"name":"lab"},"transform":[{"filter":"datum.k === 'eff'"}],"mark":{"type":"text","align":"center","baseline":"middle","fontSize":14,"color":"#111"},"encoding":{"text":{"field":"t"}}},
 {"data":{"name":"lab"},"transform":[{"filter":"datum.k === 'blue'"}],"mark":{"type":"text","align":"center","baseline":"middle","fontSize":14,"color":"#3444c0"},"encoding":{"text":{"field":"t"}}},
 {"data":{"name":"lab"},"transform":[{"filter":"datum.k === 'red'"}],"mark":{"type":"text","align":"center","baseline":"middle","fontSize":14,"color":"#d0302c"},"encoding":{"text":{"field":"t"}}},
 {"data":{"name":"lab"},"transform":[{"filter":"datum.k === 'bold'"}],"mark":{"type":"text","align":"center","baseline":"middle","fontSize":16.5,"fontWeight":"bold","color":"#111"},"encoding":{"text":{"field":"t"}}},
 {"data":{"name":"lab"},"transform":[{"filter":"datum.k === 'kw'"}],"mark":{"type":"text","align":"center","baseline":"middle","fontSize":16,"fontWeight":"bold","color":"#d0201c"},"encoding":{"text":{"field":"t"}}},
 {"data":{"name":"lab"},"transform":[{"filter":"datum.k === 'ver'"}],"mark":{"type":"text","align":"center","baseline":"middle","fontSize":10.5,"color":"#333"},"encoding":{"text":{"field":"t"}}}
]
},
{
"width":916,"height":72,
"data":{"name":"pdin"},
"encoding":{"x":{"field":"v","type":"quantitative","scale":{"type":"sqrt","domain":[0,638],"nice":false,"zero":false},
  "axis":{"orient":"bottom","domain":true,"domainColor":"#444","domainWidth":1.2,"ticks":false,"labels":false,"grid":false,"title":"pdin. [Pa]","titleFontSize":15,"titleFontWeight":"normal","titleColor":"#222","titleAlign":"right","titleAnchor":"end","titleBaseline":"middle","titleX":912,"titleY":-9}}},
"layer":[
  {"transform":[{"filter":"datum.m === 1"}],"mark":{"type":"tick","orient":"vertical","size":10,"thickness":1.4,"yOffset":31,"color":"#333"}},
  {"transform":[{"filter":"datum.m === 0"}],"mark":{"type":"tick","orient":"vertical","size":6,"thickness":1,"yOffset":33,"color":"#666"}},
  {"transform":[{"filter":"datum.m === 1"}],"mark":{"type":"text","dy":12,"fontSize":13,"color":"#222"},"encoding":{"text":{"field":"v","type":"quantitative","format":"d"}}}
]
},
{
"width":916,"height":40,
"data":{"name":"cv"},
"encoding":{"x":{"field":"v","type":"quantitative","scale":{"domain":[0,32.6],"nice":false,"zero":false},
  "axis":{"orient":"top","domain":true,"domainColor":"#444","domainWidth":1.2,"ticks":false,"labels":false,"grid":false,"title":"c [m/s]","titleFontSize":15,"titleFontWeight":"normal","titleColor":"#222","titleAlign":"right","titleAnchor":"end","titleBaseline":"middle","titleX":916,"titleY":16}}},
"layer":[
  {"transform":[{"filter":"datum.m === 1"}],"mark":{"type":"tick","orient":"vertical","size":11,"thickness":1.4,"yOffset":-14.5,"color":"#333"}},
  {"transform":[{"filter":"datum.m === 0"}],"mark":{"type":"tick","orient":"vertical","size":6,"thickness":1,"yOffset":-17,"color":"#666"}},
  {"transform":[{"filter":"datum.m === 1"}],"mark":{"type":"text","dy":0,"fontSize":13,"color":"#222"},"encoding":{"text":{"field":"v","type":"quantitative","format":"d"}}}
]
},
{
"width":916,"height":12,
"data":{"name":"rpm"},
"encoding":{"x":{"field":"v","type":"quantitative","scale":{"domain":[697.7,2828],"nice":false,"zero":false},
  "axis":{"orient":"bottom","domain":true,"domainColor":"#555","ticks":false,"labels":false,"grid":false,"title":"RPM","titleFontSize":11.5,"titleFontWeight":"normal","titleColor":"#222","titleAlign":"right","titleAnchor":"end","titleBaseline":"middle","titleX":916,"titleY":-8}}},
"layer":[
  {"transform":[{"filter":"datum.m === 1"}],"mark":{"type":"tick","orient":"vertical","size":8,"thickness":1.1,"yOffset":2,"color":"#333"}},
  {"transform":[{"filter":"datum.m === 0"}],"mark":{"type":"tick","orient":"vertical","size":6,"thickness":0.8,"yOffset":3,"color":"#777"}},
  {"transform":[{"filter":"datum.m === 1"}],"mark":{"type":"text","dy":-10,"fontSize":12,"color":"#222"},"encoding":{"text":{"field":"v","type":"quantitative","format":"d"}}}
]
},
{
"width":916,"height":29,
"data":{"name":"keta"},"transform":[{"filter":"datum.r === 'BR'"}],
"encoding":{"x":{"field":"v","type":"quantitative","scale":{"domain":[697.7,2828],"nice":false,"zero":false},
  "axis":{"orient":"bottom","domain":true,"domainColor":"#555","ticks":false,"labels":false,"grid":false,"title":"Kη (B,R)","titleFontSize":12,"titleFontWeight":"normal","titleColor":"#222","titleAlign":"right","titleAnchor":"end","titleBaseline":"middle","titleX":916,"titleY":-8}}},
"layer":[
  {"mark":{"type":"tick","orient":"vertical","size":8,"thickness":1.1,"yOffset":10.5,"color":"#333"}},
  {"mark":{"type":"text","align":"right","dx":15,"dy":-0.5,"fontSize":12,"color":"#222"},"encoding":{"text":{"field":"t"}}}
]
},
{
"width":916,"height":20,
"data":{"name":"keta"},"transform":[{"filter":"datum.r === 'T1'"}],
"encoding":{"x":{"field":"v","type":"quantitative","scale":{"domain":[697.7,2828],"nice":false,"zero":false},
  "axis":{"orient":"top","domain":true,"domainColor":"#555","ticks":false,"labels":false,"grid":false,"title":"Kη (T1)","titleFontSize":12,"titleFontWeight":"normal","titleColor":"#222","titleAlign":"right","titleAnchor":"end","titleBaseline":"middle","titleX":916,"titleY":10}}},
"layer":[
  {"mark":{"type":"tick","orient":"vertical","size":9,"thickness":1.1,"yOffset":-5.5,"color":"#333"}},
  {"mark":{"type":"text","align":"right","dx":15,"dy":8,"fontSize":12,"color":"#222"},"encoding":{"text":{"field":"t"}}}
]
},
{
"width":916,"height":27,
"data":{"name":"keta"},"transform":[{"filter":"datum.r === 'T2L'"}],
"encoding":{"x":{"field":"v","type":"quantitative","scale":{"domain":[697.7,2828],"nice":false,"zero":false},
  "axis":{"orient":"bottom","domain":true,"domainColor":"#555","ticks":false,"labels":false,"grid":false,"title":"Kη (T2L)","titleFontSize":12,"titleFontWeight":"normal","titleColor":"#222","titleAlign":"right","titleAnchor":"end","titleBaseline":"middle","titleX":916,"titleY":-10}}},
"layer":[
  {"mark":{"type":"tick","orient":"vertical","size":9,"thickness":1.1,"yOffset":9,"color":"#333"}},
  {"mark":{"type":"text","align":"right","dx":15,"dy":-1.5,"fontSize":12,"color":"#222"},"encoding":{"text":{"field":"t"}}}
]
},
{
"width":916,"height":23,
"data":{"name":"keta"},"transform":[{"filter":"datum.r === 'T2'"}],
"encoding":{"x":{"field":"v","type":"quantitative","scale":{"domain":[697.7,2828],"nice":false,"zero":false},
  "axis":{"orient":"top","domain":true,"domainColor":"#555","ticks":false,"labels":false,"grid":false,"title":"Kη (T2)","titleFontSize":12,"titleFontWeight":"normal","titleColor":"#222","titleAlign":"right","titleAnchor":"end","titleBaseline":"middle","titleX":916,"titleY":10}}},
"layer":[
  {"mark":{"type":"tick","orient":"vertical","size":9,"thickness":1.1,"yOffset":-7,"color":"#333"}},
  {"mark":{"type":"text","align":"right","dx":15,"dy":7.5,"fontSize":12,"color":"#222"},"encoding":{"text":{"field":"t"}}}
]
}
]
}
